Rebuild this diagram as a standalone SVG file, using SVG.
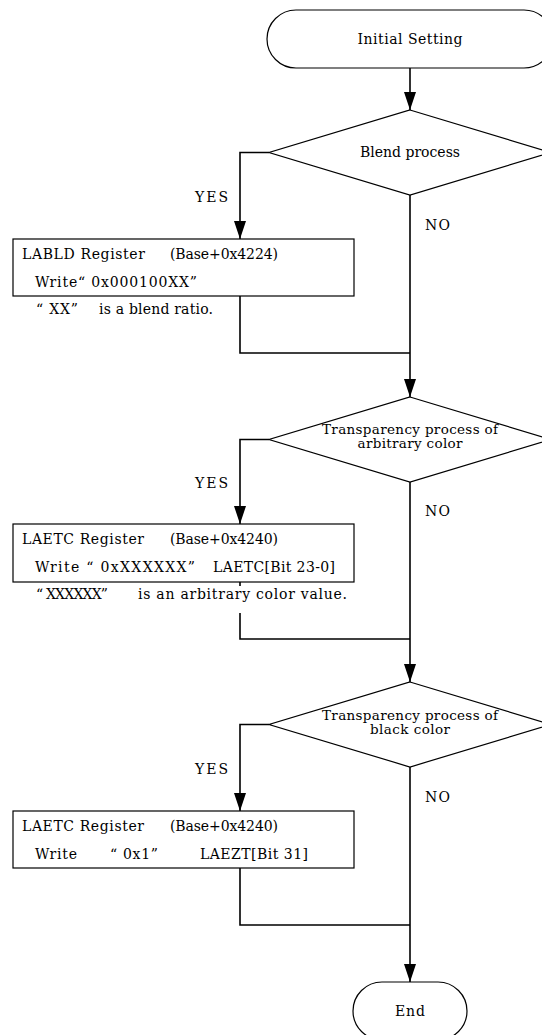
<svg xmlns="http://www.w3.org/2000/svg" width="542" height="1035" viewBox="0 0 542 1035">
  <style>
    .shape { fill: #ffffff; stroke: #000000; stroke-width: 1.2; }
    .conn { fill: none; stroke: #000000; stroke-width: 1.6; }
    text { font-family: "DejaVu Serif", "Liberation Serif", serif; font-size: 14px; fill: #000000; }
    .c { text-anchor: middle; }
    .d { font-size: 13.5px; }
  </style>
  <defs>
    <marker id="arrow" markerUnits="userSpaceOnUse" markerWidth="18" markerHeight="12" refX="18" refY="6" orient="auto">
      <path d="M0,0 L18,6 L0,12 Z" fill="#000000"/>
    </marker>
  </defs>
  <rect width="542" height="1035" fill="#ffffff"/>

  <!-- connectors -->
  <g id="connectors">
    <path class="conn" d="M410,68 V110" marker-end="url(#arrow)"/>
    <path class="conn" d="M269,152.5 H240 V239" marker-end="url(#arrow)"/>
    <path class="conn" d="M240,296 V353 H410"/>
    <path class="conn" d="M410,195 V397" marker-end="url(#arrow)"/>
    <path class="conn" d="M269,439.5 H240 V524" marker-end="url(#arrow)"/>
    <path class="conn" d="M240,582 V586 M240,613 V639 H410"/>
    <path class="conn" d="M410,482 V682" marker-end="url(#arrow)"/>
    <path class="conn" d="M269,724.5 H240 V811" marker-end="url(#arrow)"/>
    <path class="conn" d="M240,868 V925 H410"/>
    <path class="conn" d="M410,767 V982" marker-end="url(#arrow)"/>
  </g>

  <!-- start terminal -->
  <g id="start">
    <rect class="shape" x="267" y="10" width="286" height="58" rx="29" ry="29"/>
    <text class="c" x="410" y="44" textLength="105">Initial Setting</text>
  </g>

  <!-- decision: blend -->
  <g id="decision-blend">
    <polygon class="shape" points="410,110 551,152.5 410,195 269,152.5"/>
    <text class="c" x="410" y="157" textLength="100">Blend process</text>
  </g>
  <g id="label-yes-1"><text x="195" y="202" textLength="33">YES</text></g>
  <g id="label-no-1"><text x="425" y="230" textLength="25">NO</text></g>

  <!-- LABLD register write -->
  <g id="step-labld">
    <rect class="shape" x="13" y="239" width="341" height="57"/>
    <text x="22" y="259" textLength="123">LABLD Register</text>
    <text x="170" y="259" textLength="108">(Base+0x4224)</text>
    <text x="35" y="287" textLength="162">Write“ 0x000100XX”</text>
  </g>
  <g id="note-labld">
    <text x="36" y="314" textLength="42">“ XX”</text>
    <text x="99" y="314" textLength="114">is a blend ratio.</text>
  </g>

  <!-- decision: arbitrary color -->
  <g id="decision-arbitrary">
    <polygon class="shape" points="410,397 551,439.5 410,482 269,439.5"/>
    <text class="c d" x="410" y="434" textLength="176">Transparency process of</text>
    <text class="c d" x="410" y="448" textLength="105">arbitrary color</text>
  </g>
  <g id="label-yes-2"><text x="195" y="488" textLength="33">YES</text></g>
  <g id="label-no-2"><text x="425" y="516" textLength="25">NO</text></g>

  <!-- LAETC arbitrary color write -->
  <g id="step-laetc-color">
    <rect class="shape" x="13" y="524" width="341" height="58"/>
    <text x="22" y="544" textLength="122">LAETC Register</text>
    <text x="170" y="544" textLength="108">(Base+0x4240)</text>
    <text x="35" y="572" textLength="160">Write “ 0xXXXXXX”</text>
    <text x="213" y="572" textLength="122">LAETC[Bit 23-0]</text>
  </g>
  <g id="note-laetc-color">
    <text x="36" y="599" textLength="72">“ XXXXXX”</text>
    <text x="138" y="599" textLength="209">is an arbitrary color value.</text>
  </g>

  <!-- decision: black color -->
  <g id="decision-black">
    <polygon class="shape" points="410,682 551,724.5 410,767 269,724.5"/>
    <text class="c d" x="410" y="720" textLength="176">Transparency process of</text>
    <text class="c d" x="410" y="734" textLength="80">black color</text>
  </g>
  <g id="label-yes-3"><text x="195" y="774" textLength="33">YES</text></g>
  <g id="label-no-3"><text x="425" y="802" textLength="25">NO</text></g>

  <!-- LAETC black color write -->
  <g id="step-laetc-black">
    <rect class="shape" x="13" y="811" width="341" height="57"/>
    <text x="22" y="831" textLength="122">LAETC Register</text>
    <text x="170" y="831" textLength="108">(Base+0x4240)</text>
    <text x="35" y="859" textLength="42">Write</text>
    <text x="110" y="859" textLength="48">“ 0x1”</text>
    <text x="200" y="859" textLength="108">LAEZT[Bit 31]</text>
  </g>

  <!-- end terminal -->
  <g id="end">
    <rect class="shape" x="353" y="982" width="114" height="58" rx="29" ry="29"/>
    <text class="c" x="410" y="1016" textLength="30">End</text>
  </g>
</svg>
